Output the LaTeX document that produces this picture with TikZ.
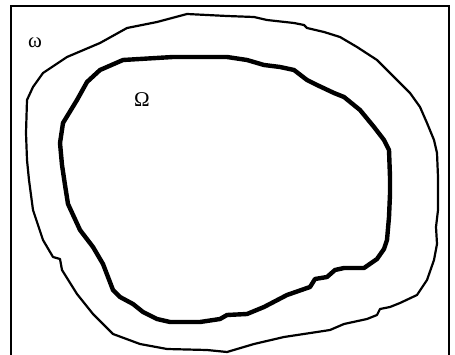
\documentclass[tikz,border=0pt]{standalone}
\usepackage{fontspec}
\setmainfont{Liberation Serif}
\begin{document}
\begin{tikzpicture}[x=1pt,y=-1pt,
  frameline/.style={line width=2pt},
  outerline/.style={line width=2.2pt,line join=round},
  innerline/.style={line width=4.4pt,line join=round},
  lbl/.style={inner sep=0pt,font=\fontsize{21}{21}\selectfont}]
\useasboundingbox (0,0) rectangle (455,355);
\coordinate (bl) at (11,356);
\coordinate (tl) at (11,6);
\coordinate (tr) at (449,6);
\coordinate (br) at (449,356);
\draw[frameline] (bl) -- (tl) -- (tr) -- (br);
% outer curve
\draw[outerline] (227,16) -- (187,14) -- (157,22) -- (127,28) -- (100,43) -- (67,57) -- (43,73) -- (33,87) -- (27,100) -- (26,133) -- (27,160)
 -- (29,180) -- (33,210) -- (43,240) -- (53,257) -- (60,259) -- (62,270) -- (77,294) -- (93,314) -- (113,334) -- (140,344) -- (167,349) -- (207,350) -- (227,352)
 -- (254,344) -- (284,337) -- (317,332) -- (330,330) -- (344,324) -- (367,319) -- (377,315) -- (380,309) -- (390,307) -- (400,303) -- (417,295) -- (427,280) -- (434,260) -- (437,244) -- (436,227) -- (438,210) -- (438,177)
 -- (437,153) -- (434,140) -- (427,123) -- (420,107) -- (410,93) -- (394,77) -- (377,60) -- (357,47) -- (340,37) -- (324,32) -- (307,28) -- (304,25) -- (294,23) -- (267,20) -- (254,17) -- cycle;
% inner curve
\draw[innerline] (227,57) -- (173,57) -- (123,60) -- (100,70) -- (87,82) -- (77,100) -- (63,123) -- (60,143) -- (62,165)
 -- (65,185) -- (68,204) -- (80,230) -- (93,247) -- (103,264) -- (113,290) -- (120,297) -- (133,304) -- (143,312) -- (157,319) -- (170,322) -- (200,322) -- (220,319) -- (227,315)
 -- (247,314) -- (264,307) -- (287,295) -- (310,287) -- (315,279) -- (327,277) -- (335,270) -- (344,268) -- (364,268) -- (377,259) -- (384,249) -- (387,240) -- (389,217) -- (390,194) -- (390,177)
 -- (389,150) -- (384,140) -- (374,127) -- (360,110) -- (344,97) -- (334,93) -- (317,85) -- (307,80) -- (294,70) -- (280,67) -- (264,65) -- (247,60) -- cycle;
\node[lbl] (omega) at (35,43) {ω};
\node[lbl] (Omega) at (142,100) {Ω};
\end{tikzpicture}
\end{document}
